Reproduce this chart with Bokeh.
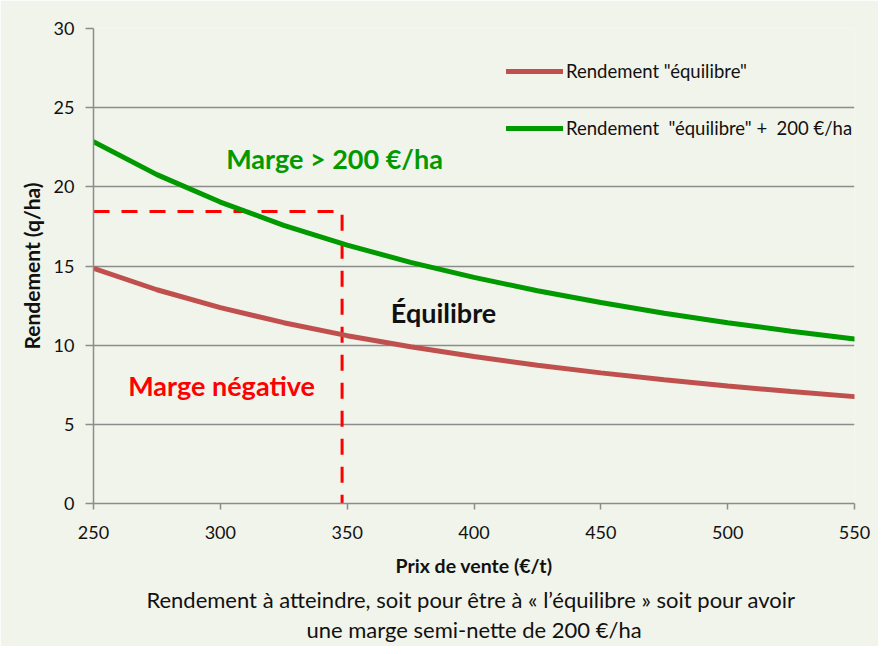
from bokeh.plotting import figure
from bokeh.models import Range1d, FixedTicker, Legend, LegendItem, Label, Title
from bokeh.embed import file_html
from bokeh.resources import INLINE

# Data
prix = [250, 275, 300, 325, 350, 375, 400, 425, 450, 475, 500, 525, 550]
rend_equilibre = [14.85, 13.5, 12.37, 11.42, 10.6, 9.9, 9.28, 8.73, 8.25, 7.81, 7.42, 7.07, 6.75]
rend_200 = [22.85, 20.77, 19.04, 17.57, 16.32, 15.23, 14.28, 13.44, 12.69, 12.02, 11.42, 10.88, 10.39]
seuil_x = [250, 348, 348]
seuil_y = [18.45, 18.45, 0]
x_ticks = [250, 300, 350, 400, 450, 500, 550]
y_ticks = [0, 5, 10, 15, 20, 25, 30]

BG = "#f1f4ea"
FONT = "Lato"
GRID = "#8c8c8c"

p = figure(width=878, height=646, output_backend="svg", toolbar_location=None,
           x_range=Range1d(250, 550), y_range=Range1d(0, 30),
           min_border_left=93, min_border_right=24, min_border_top=28, min_border_bottom=143)
p.background_fill_color = BG
p.border_fill_color = BG
p.outline_line_color = None

p.xgrid.grid_line_color = None
p.ygrid.grid_line_color = GRID
p.ygrid.grid_line_width = 1.5
p.ygrid.ticker = FixedTicker(ticks=y_ticks)

for ax in (p.xaxis[0], p.yaxis[0]):
    ax.axis_line_color = GRID
    ax.axis_line_width = 1.5
    ax.major_tick_line_color = GRID
    ax.major_tick_line_width = 1.5
    ax.major_tick_in = 0
    ax.minor_tick_line_color = None
    ax.major_label_text_font = FONT
    ax.major_label_text_font_size = "18px"
    ax.major_label_text_color = "#111111"
    ax.axis_label_text_font = FONT
    ax.axis_label_text_font_style = "bold"
    ax.axis_label_text_color = "#111111"

p.xaxis.ticker = FixedTicker(ticks=x_ticks)
p.yaxis.ticker = FixedTicker(ticks=y_ticks)
p.xaxis.major_tick_out = 6
p.yaxis.major_tick_out = 8
p.xaxis.major_label_standoff = 16
p.yaxis.major_label_standoff = 11
p.xaxis.axis_label = "Prix de vente (€/t)"
p.yaxis.axis_label = "Rendement (q/ha)"
p.xaxis.axis_label_text_font_size = "19.5px"
p.yaxis.axis_label_text_font_size = "21px"
p.xaxis.axis_label_standoff = 12
p.yaxis.axis_label_standoff = 7

# dashed threshold
p.line(seuil_x, seuil_y, line_color="#ff0000", line_width=3, line_dash="16 12")

r1 = p.line(prix, rend_equilibre, line_color="#c0504d", line_width=5, line_cap="round")
r2 = p.line(prix, rend_200, line_color="#009a00", line_width=5, line_cap="round")

legend = Legend(items=[LegendItem(label='Rendement "équilibre"', renderers=[r1]),
                       LegendItem(label='Rendement  "équilibre" +  200 €/ha', renderers=[r2])],
                location=(413, 364), background_fill_alpha=0, border_line_color=None,
                padding=0, margin=0, spacing=35, glyph_width=57, glyph_height=20,
                label_height=20, label_standoff=3,
                label_text_font=FONT, label_text_font_size="18.5px", label_text_color="#111111")
p.add_layout(legend)

p.add_layout(Label(x=345, y=21.8, text="Marge > 200 €/ha", text_font=FONT, text_font_style="bold",
                   text_font_size="27px", text_color="#009a00", text_align="center", text_baseline="middle"))
p.add_layout(Label(x=388, y=12.06, text="Équilibre", text_font=FONT, text_font_style="bold",
                   text_font_size="27px", text_color="#111111", text_align="center", text_baseline="middle"))
p.add_layout(Label(x=300.5, y=7.45, text="Marge négative", text_font=FONT, text_font_style="bold",
                   text_font_size="27px", text_color="#ff0000", text_align="center", text_baseline="middle"))

t1 = Title(text="Rendement à atteindre, soit  pour être à « l’équilibre » soit pour avoir", align="center",
           text_font=FONT, text_font_style="normal", text_font_size="22px", text_color="#111111",
           standoff=8)
t2 = Title(text="une marge semi-nette de 200 €/ha", align="center",
           text_font=FONT, text_font_style="normal", text_font_size="22px", text_color="#111111",
           standoff=-6)
p.add_layout(t1, "below")
p.add_layout(t2, "below")

open("out.html", "w").write(file_html(p, INLINE))
